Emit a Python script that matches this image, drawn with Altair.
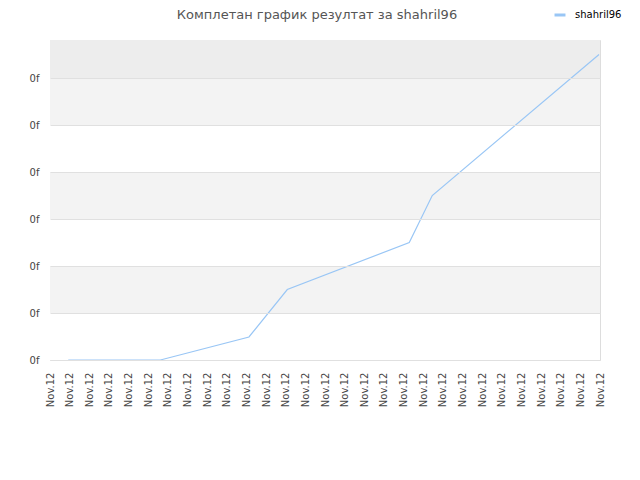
import altair as alt
import pandas as pd

# Data
x_pos = [0.93, 5.62, 10.13, 12.08, 18.29, 19.46, 27.95]
y_val = [0.0, 0.0, 0.49, 1.5, 2.5, 3.5, 6.5]
series_name = "shahril96"
tick_label = "Nov.12"
y_tick_label = "0f"
n_x_ticks = 29
band_lo = [0, 1, 2, 3, 4, 5, 6]
band_hi = [1, 2, 3, 4, 5, 6, 6.81]
band_col = ["#ffffff", "#f3f3f3", "#ffffff", "#f3f3f3", "#ffffff", "#f3f3f3", "#ededed"]
title_text = ["Комплетан график резултат за shahril96"]

FONT = "DejaVu Sans"
XDOM = [0, n_x_ticks - 1]
YDOM = [0, 6.81]

line_df = pd.DataFrame({"x": x_pos, "y": y_val, "series": [series_name] * len(x_pos)})
band_df = pd.DataFrame({"lo": band_lo, "hi": band_hi, "col": band_col,
                        "x0": [XDOM[0]] * 7, "x1": [XDOM[1]] * 7})
title_df = pd.DataFrame({"t": title_text})

xscale = alt.Scale(domain=XDOM, nice=False, zero=False)
yscale = alt.Scale(domain=YDOM, nice=False, zero=False)

xaxis = alt.Axis(values=list(range(n_x_ticks)), labelExpr=f"'{tick_label}'",
                 labelAngle=-90, labelAlign="right", labelBaseline="middle",
                 labelPadding=12, ticks=False, domain=False, grid=False,
                 labelFont=FONT, labelFontSize=10, labelColor="#444444",
                 labelOverlap=False, labelFlush=False, zindex=1)
yaxis = alt.Axis(values=[0, 1, 2, 3, 4, 5, 6], labelExpr=f"'{y_tick_label}'",
                 ticks=False, domain=False, grid=True, gridColor="#e0e0e0",
                 labelPadding=11, labelFont=FONT, labelFontSize=10,
                 labelColor="#444444", zindex=1)

bands = alt.Chart(band_df).mark_rect().encode(
    x=alt.X("x0:Q", scale=xscale, title=None, axis=xaxis),
    x2="x1:Q",
    y=alt.Y("lo:Q", scale=yscale, title=None, axis=yaxis),
    y2="hi:Q",
    fill=alt.Fill("col:N", scale=None, legend=None),
)

line = alt.Chart(line_df).mark_line(strokeWidth=1.2).encode(
    x=alt.X("x:Q", scale=xscale, title=None, axis=xaxis),
    y=alt.Y("y:Q", scale=yscale, title=None, axis=yaxis),
    color=alt.Color("series:N", scale=alt.Scale(range=["#99c6f5"]),
                    legend=alt.Legend(title=None, orient="none", legendX=503, legendY=-32,
                                      symbolType="stroke", symbolSize=120, symbolStrokeWidth=3,
                                      labelFont=FONT, labelFontSize=10, labelColor="#000000",
                                      labelOffset=8)),
)

title = alt.Chart(title_df).mark_text(font=FONT, fontSize=13, color="#555555",
                                      align="center", baseline="alphabetic").encode(
    x=alt.value(267), y=alt.value(-21), text="t:N"
)

chart = alt.layer(bands, line, title).properties(
    width=550,
    height=320,
    padding={"left": 42, "top": 32, "right": 32, "bottom": 112},
    autosize=alt.AutoSizeParams(type="none"),
).configure_view(stroke="#d9d9d9", strokeWidth=1).configure(background="#ffffff")

chart.save("out.html", embed_options={"renderer": "svg", "actions": False})
